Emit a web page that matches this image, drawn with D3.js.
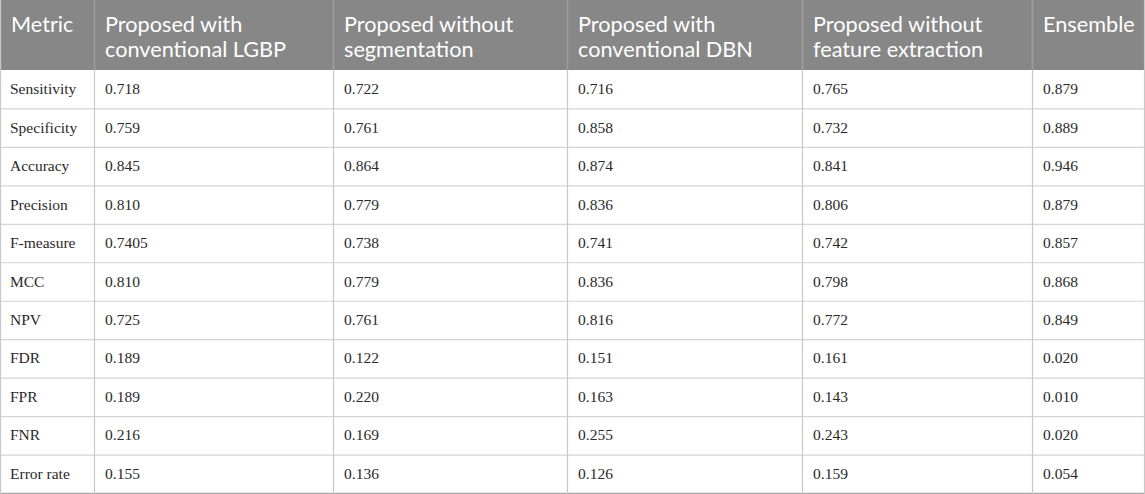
<!DOCTYPE html>
<html>
<head>
<meta charset="utf-8">
<script src="https://cdn.jsdelivr.net/npm/d3@7"></script>
<style>
  html, body { margin: 0; padding: 0; background: #fff; }
</style>
</head>
<body>
<svg id="table" width="1145" height="494"></svg>
<script>
var headers = [
  ["Metric"],
  ["Proposed with", "conventional LGBP"],
  ["Proposed without", "segmentation"],
  ["Proposed with", "conventional DBN"],
  ["Proposed without", "feature extraction"],
  ["Ensemble"]
];
var metrics = ["Sensitivity","Specificity","Accuracy","Precision","F-measure","MCC","NPV","FDR","FPR","FNR","Error rate"];
var lgbp     = ["0.718","0.759","0.845","0.810","0.7405","0.810","0.725","0.189","0.189","0.216","0.155"];
var noSeg    = ["0.722","0.761","0.864","0.779","0.738","0.779","0.761","0.122","0.220","0.169","0.136"];
var dbn      = ["0.716","0.858","0.874","0.836","0.741","0.836","0.816","0.151","0.163","0.255","0.126"];
var noFeat   = ["0.765","0.732","0.841","0.806","0.742","0.798","0.772","0.161","0.143","0.243","0.159"];
var ensemble = ["0.879","0.889","0.946","0.879","0.857","0.868","0.849","0.020","0.010","0.020","0.054"];

var svg = d3.select("#table");
var W = +svg.attr("width"), H = +svg.attr("height");
var headH = 70;
var colEdges = [0, 94, 333, 567, 802, 1032, W];

var columns = [metrics, lgbp, noSeg, dbn, noFeat, ensemble];

var y = d3.scaleBand()
  .domain(d3.range(metrics.length))
  .range([headH, H - 1]);

// header background
svg.append("rect")
  .attr("x", 0).attr("y", 0)
  .attr("width", W).attr("height", headH)
  .attr("fill", "#878787");

// row separators
svg.append("g").selectAll("line")
  .data(d3.range(metrics.length))
  .enter()
  .append("line")
  .attr("x1", 0).attr("x2", W)
  .attr("y1", function(d){ return y(d) + y.bandwidth() + 0.5; })
  .attr("y2", function(d){ return y(d) + y.bandwidth() + 0.5; })
  .attr("stroke", function(d){ return d == metrics.length - 1 ? "#aaaaaa" : "#d4d4d4"; })
  .attr("stroke-width", function(d){ return d == metrics.length - 1 ? 1.5 : 1.2; });

// column separators
svg.append("g").selectAll("line")
  .data(colEdges)
  .enter()
  .append("line")
  .attr("x1", function(d){ return d == W ? W - 0.5 : d + 0.5; })
  .attr("x2", function(d){ return d == W ? W - 0.5 : d + 0.5; })
  .attr("y1", 0).attr("y2", H)
  .attr("stroke", "#c8c8c8")
  .attr("stroke-width", 1.2);

// header column lines over the grey
svg.append("g").selectAll("line")
  .data(colEdges.slice(1, colEdges.length - 1))
  .enter()
  .append("line")
  .attr("x1", function(d){ return d + 0.5; })
  .attr("x2", function(d){ return d + 0.5; })
  .attr("y1", 0).attr("y2", headH)
  .attr("stroke", "#9c9c9c")
  .attr("stroke-width", 1.2);

// header text
var head = svg.append("g").selectAll("text")
  .data(headers)
  .enter()
  .append("text")
  .attr("x", function(d,i){ return colEdges[i] + 11; })
  .attr("y", 0)
  .attr("fill", "#ffffff")
  .attr("font-family", "Lato, 'Open Sans', sans-serif")
  .attr("font-size", 21.7);
head.selectAll("tspan")
  .data(function(d){ return d; })
  .enter()
  .append("tspan")
  .attr("x", function(){ return d3.select(this.parentNode).attr("x"); })
  .attr("y", function(d,i){ return 32 + i * 25; })
  .text(function(d){ return d; });

// body cells
columns.forEach(function(col, ci){
  svg.append("g").selectAll("text")
    .data(col)
    .enter()
    .append("text")
    .attr("x", colEdges[ci] + (ci == 0 ? 10 : 11))
    .attr("y", function(d,i){ return y(i) + y.bandwidth()/2 + 5; })
    .attr("fill", "#2a2a2a")
    .attr("font-family", "'Liberation Serif', 'Times New Roman', serif")
    .attr("font-size", 15.5)
    .text(function(d){ return d; });
});
</script>
</body>
</html>
